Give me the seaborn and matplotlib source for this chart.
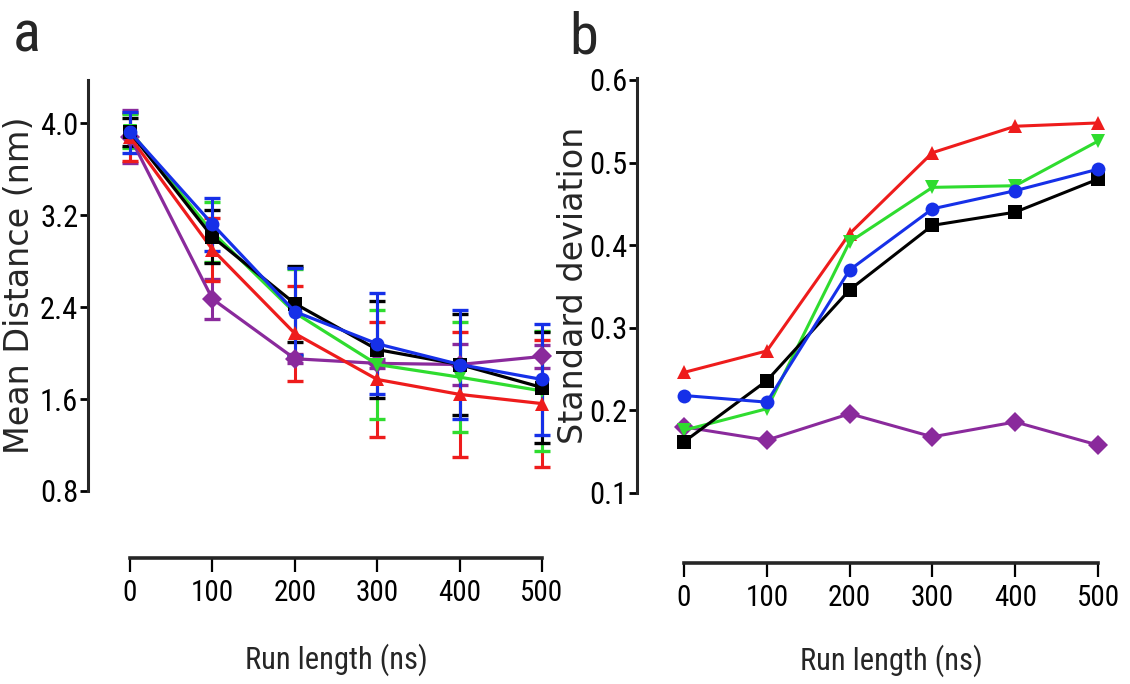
import numpy as np
import pandas as pd
import matplotlib
matplotlib.use("Agg")
import matplotlib.pyplot as plt
import matplotlib.transforms as mtransforms
from matplotlib import font_manager
from matplotlib.font_manager import FontProperties
import seaborn as sns

# ---------------- data ----------------
run_length = [0, 100, 200, 300, 400, 500]
series = ["Set 5", "Set 2", "Set 3", "Set 1", "Set 4"]   # draw order: purple, red, green, black, blue

# panel a: mean distance (nm) and error half-widths
dist_black = [3.92, 3.01, 2.43, 2.03, 1.90, 1.70]
dist_red = [3.88, 2.90, 2.17, 1.77, 1.64, 1.56]
dist_green = [3.93, 3.05, 2.35, 1.90, 1.79, 1.67]
dist_blue = [3.92, 3.12, 2.36, 2.08, 1.90, 1.77]
dist_purple = [3.88, 2.47, 1.95, 1.91, 1.90, 1.97]

err_black = [0.12, 0.23, 0.33, 0.42, 0.44, 0.48]
err_red = [0.21, 0.27, 0.41, 0.50, 0.54, 0.55]
err_green = [0.15, 0.26, 0.38, 0.47, 0.48, 0.52]
err_blue = [0.18, 0.23, 0.38, 0.44, 0.47, 0.48]
err_purple = [0.23, 0.17, 0.04, 0.04, 0.18, 0.10]

# panel b: standard deviation
sd_black = [0.162, 0.236, 0.346, 0.424, 0.440, 0.480]
sd_red = [0.246, 0.272, 0.414, 0.512, 0.544, 0.548]
sd_green = [0.176, 0.202, 0.404, 0.470, 0.472, 0.526]
sd_blue = [0.218, 0.210, 0.370, 0.444, 0.466, 0.492]
sd_purple = [0.180, 0.164, 0.196, 0.168, 0.186, 0.158]

yticks_a = [0.8, 1.6, 2.4, 3.2, 4.0]
yticks_b = [0.1, 0.2, 0.3, 0.4, 0.5, 0.6]
xticks = [0, 100, 200, 300, 400, 500]

colors = {"Set 1": "#000000", "Set 2": "#ee1c1c", "Set 3": "#2fdc2f",
          "Set 4": "#1630e8", "Set 5": "#8a2a9c"}
markers = {"Set 1": "s", "Set 2": "^", "Set 3": "v", "Set 4": "o", "Set 5": "D"}

dist = {"Set 1": dist_black, "Set 2": dist_red, "Set 3": dist_green,
        "Set 4": dist_blue, "Set 5": dist_purple}
errs = {"Set 1": err_black, "Set 2": err_red, "Set 3": err_green,
        "Set 4": err_blue, "Set 5": err_purple}
sds = {"Set 1": sd_black, "Set 2": sd_red, "Set 3": sd_green,
       "Set 4": sd_blue, "Set 5": sd_purple}

rows_a, rows_b = [], []
for s in series:
    for i, x in enumerate(run_length):
        rows_a.append({"run": x, "value": dist[s][i], "err": errs[s][i], "series": s})
        rows_b.append({"run": x, "value": sds[s][i], "series": s})
df_a = pd.DataFrame(rows_a)
df_b = pd.DataFrame(rows_b)

# ---------------- fonts ----------------
sns.set_style("ticks")
plt.rcParams["font.family"] = ["Liberation Sans", "DejaVu Sans"]

def find_condensed():
    pref = ["liberation sans narrow", "roboto condensed", "open sans condensed",
            "dejavu sans condensed", "noto sans condensed"]
    found = []
    for f in font_manager.fontManager.ttflist:
        nm = f.name.lower()
        fn = f.fname.lower()
        if f.style != "normal":
            continue
        if f.weight not in (400, "normal", "regular", "book"):
            continue
        if "bold" in fn or "light" in fn or "italic" in fn or "oblique" in fn:
            continue
        st = str(f.stretch).lower()
        if ("narrow" in nm or "condensed" in nm or "narrow" in fn or "condensed" in fn
                or st in ("condensed", "semi-condensed", "extra-condensed")):
            found.append(f)
    if not found:
        return None
    def rank(f):
        key = f.name.lower() + " " + f.fname.lower()
        for i, p in enumerate(pref):
            if all(w in key for w in p.split()):
                return i
        return len(pref)
    found.sort(key=rank)
    return found[0].fname

cond_path = find_condensed()

def cfont(size):
    if cond_path:
        return FontProperties(fname=cond_path, size=size)
    return FontProperties(family=["Liberation Sans", "DejaVu Sans"], size=size * 0.9)

W, H = 1130, 684
fig = plt.figure(figsize=(W / 100, H / 100), dpi=100)

def rect(left_px, right_px, top_px, bottom_px):
    return [left_px / W, 1 - bottom_px / H, (right_px - left_px) / W, (bottom_px - top_px) / H]

ax_a = fig.add_axes(rect(88, 558.5, 80, 491))
ax_b = fig.add_axes(rect(637, 1114.6, 78, 493))

def style_axes(ax, ylim, xlim, yticks, offset_pt, ylabel, xlab_y, ylab_x):
    ax.set_xlim(*xlim)
    ax.set_ylim(*ylim)
    for sp in ["top", "right"]:
        ax.spines[sp].set_visible(False)
    ax.spines["left"].set_linewidth(2.2)
    ax.spines["bottom"].set_linewidth(2.6)
    ax.spines["bottom"].set_position(("outward", offset_pt))
    ax.spines["bottom"].set_bounds(0, 500)
    ax.set_xticks(xticks)
    ax.set_xticklabels([str(t) for t in xticks])
    ax.set_yticks(yticks)
    ax.set_yticklabels(["{:.1f}".format(t) for t in yticks])
    ax.tick_params(axis="y", direction="out", length=6, width=2, pad=1, colors="#000000")
    ax.tick_params(axis="x", direction="out", length=10, width=1.6, pad=5, colors="#000000")
    for lab in ax.get_yticklabels():
        lab.set_fontproperties(cfont(22))
    for lab in ax.get_xticklabels():
        lab.set_fontproperties(cfont(21))
    ax.set_xlabel("Run length (ns)")
    ax.xaxis.label.set_fontproperties(cfont(22))
    trans = mtransforms.blended_transform_factory(ax.transData, ax.transAxes)
    ax.xaxis.set_label_coords(250, xlab_y, transform=trans)
    ax.set_ylabel(ylabel, fontsize=24, family=["DejaVu Sans"])
    ax.yaxis.set_label_coords(ylab_x, 0.5)
    ax.grid(False)

# ---- panel a ----
for s in series:
    sub = df_a[df_a["series"] == s]
    ax_a.errorbar(sub["run"], sub["value"], yerr=sub["err"], fmt="none",
                  ecolor=colors[s], elinewidth=2.2, capsize=6, capthick=2.4, zorder=2)
sns.lineplot(data=df_a, x="run", y="value", hue="series", style="series",
             hue_order=series, style_order=series, palette=colors, markers=markers,
             dashes=False, linewidth=2.3, markersize=10, markeredgewidth=0,
             errorbar=None, legend=False, ax=ax_a, zorder=3)
style_axes(ax_a, (0.8, 4.374), (-51, 520), yticks_a, 48.2, "Mean Distance (nm)",
           -0.372, (36 - 88) / 470.5)

# ---- panel b ----
sns.lineplot(data=df_b, x="run", y="value", hue="series", style="series",
             hue_order=series, style_order=series, palette=colors, markers=markers,
             dashes=False, linewidth=2.2, markersize=10, markeredgewidth=0,
             errorbar=None, legend=False, ax=ax_b, zorder=3)
style_axes(ax_b, (0.1, 0.6024), (-56.8, 520), yticks_b, 50.4, "Standard deviation",
           -0.364, (590 - 637) / 477.6)

fig.text(27 / W, 1 - 36 / H, "a", ha="center", va="center", fontproperties=cfont(42))
fig.text(584 / W, 1 - 38 / H, "b", ha="center", va="center", fontproperties=cfont(42))

fig.savefig("out.png", dpi=100)
